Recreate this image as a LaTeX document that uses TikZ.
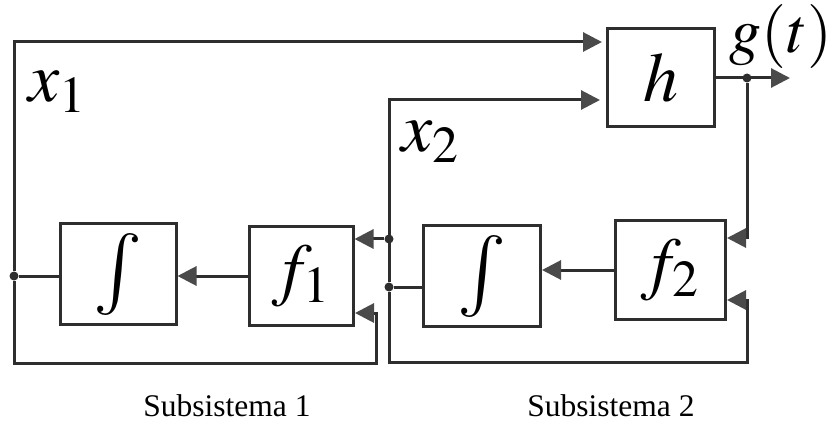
\documentclass[tikz,border=0pt]{standalone}
\usepackage{mathptmx}
\usepackage[no-math]{fontspec}
\setmainfont{Liberation Serif}
\usetikzlibrary{arrows.meta}
\definecolor{linegray}{HTML}{2E2E2E}
\definecolor{tipgray}{HTML}{4A4A4A}

\begin{document}
\begin{tikzpicture}[x=1pt, y=-1pt,
		block/.style={draw=linegray, line width=3pt, minimum width=110pt, minimum height=98pt, inner sep=0pt, font=\fontsize{70}{80}\selectfont},
		dot/.style={circle, inner sep=0pt, minimum size=9pt, fill=linegray},
		wire/.style={draw=linegray, line width=3pt},
		arr/.style={wire, -{Triangle[length=19pt, width=19pt, fill=tipgray, color=tipgray]}},
		mathlabel/.style={font=\fontsize{70}{80}\selectfont},
		textlabel/.style={font=\fontsize{31.5}{38}\selectfont}]
			\useasboundingbox (0,0) rectangle (839,425);
			% blocks
			\node[block, minimum width=107pt] (h) at (661,78) {$h$};
			\node[block] (f2) at (670,270) {$f_2$};
			\node[block, minimum width=117pt, minimum height=100pt, font=\fontsize{82}{90}\selectfont] (int2) at (482,276) {$\int$};
			\node[block, minimum width=104pt] (f1) at (301,276) {$f_1$};
			\node[block, minimum width=116pt, minimum height=101pt, font=\fontsize{82}{90}\selectfont] (int1) at (118,274) {$\int$};
			% branch points
			\node[dot] (d1) at (14,276) {};
			\node[dot] (d2) at (389,239) {};
			\node[dot] (d3) at (389,287) {};
			\node[dot] (d4) at (747,78) {};
			% corners and inputs
			\coordinate (hin1) at (602,42);
			\coordinate (hin2) at (600,100);
			\coordinate (r1) at (376,363);
			\coordinate (r2) at (747,362);
			\coordinate (f1in2) at (355,313);
			\coordinate (f2in1) at (727,238);
			\coordinate (f2in2) at (727,300);
			\coordinate (gout) at (790,78);
			% subsystem 1
			\draw[arr] (d1) |- (hin1);
			\draw[arr] (d1) |- (r1) |- (f1in2);
			\draw[wire] (int1.west |- d1) -- (d1);
			\draw[arr] (f1.west |- d1) -- (int1.east |- d1);
			% subsystem 2
			\draw[arr] (d3) |- (hin2);
			\draw[arr] (d2) -- (f1.east |- d2);
			\draw[arr] (d3) |- (r2) |- (f2in2);
			\draw[wire] (int2.west |- d3) -- (d3);
			\draw[arr] (f2.west) -- (f2.west -| int2.east);
			% output
			\draw[arr] (h.east) -- (gout);
			\draw[arr] (d4) |- (f2in1);
			% labels
			\node[mathlabel] (x1) at (57,92) {$x_1$};
			\node[mathlabel] (x2) at (430,142) {$x_2$};
			\node[mathlabel, font=\fontsize{64}{72}\selectfont] (g) at (781,37) {$g(t)$};
			\node[textlabel] (sub1) at (227,406) {Subsistema 1};
			\node[textlabel] (sub2) at (611,406) {Subsistema 2};
\end{tikzpicture}
\end{document}
